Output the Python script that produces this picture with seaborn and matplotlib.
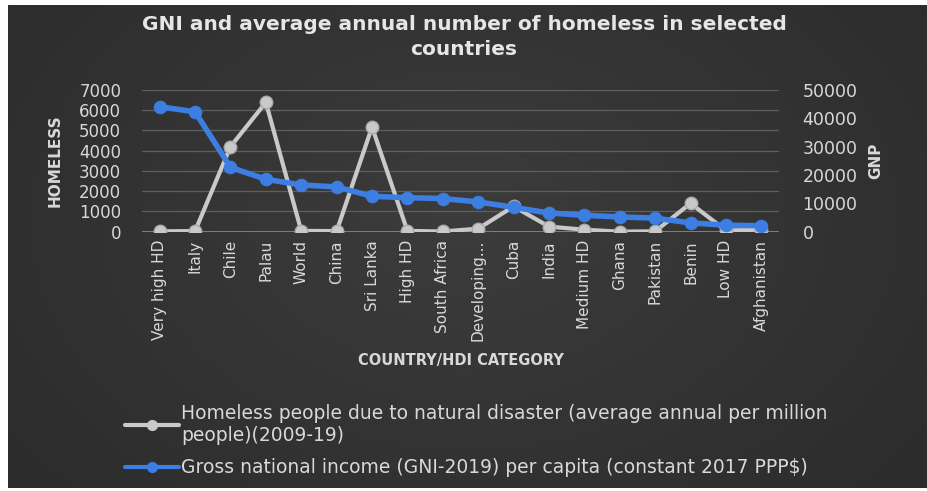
import numpy as np
import pandas as pd
import matplotlib
matplotlib.use("Agg")
import matplotlib.pyplot as plt
import seaborn as sns
from matplotlib.lines import Line2D

categories = ["Very high HD", "Italy", "Chile", "Palau", "World", "China", "Sri Lanka",
              "High HD", "South Africa", "Developing...", "Cuba", "India", "Medium HD",
              "Ghana", "Pakistan", "Benin", "Low HD", "Afghanistan"]
homeless = [20, 30, 4200, 6390, 40, 30, 5170, 40, 10, 150, 1250, 250, 100, 0, 20, 1400, 60, 100]
gni = [44100, 42300, 22700, 18500, 16500, 15800, 12500, 12000, 11700, 10500, 8600,
       6600, 5800, 5200, 4800, 3100, 2300, 2100]
left_ticks = [0, 1000, 2000, 3000, 4000, 5000, 6000, 7000]
right_ticks = [0, 10000, 20000, 30000, 40000, 50000]

homeless_label = "Homeless people due to natural disaster (average annual per million\npeople)(2009-19)"
gni_label = "Gross national income (GNI-2019) per capita (constant 2017 PPP$)"

df = pd.DataFrame({"category": categories, "homeless": homeless, "gni": gni})

sns.set_theme(style="dark")
plt.rcParams["font.family"] = ["DejaVu Sans"]

W, H = 928, 491
fig = plt.figure(figsize=(W / 100, H / 100), dpi=100)

# background gradient
yy, xx = np.mgrid[0:H, 0:W]
cx, cy = W * 0.5, H * 0.45
r = np.sqrt(((xx - cx) / (W * 0.6)) ** 2 + ((yy - cy) / (H * 0.8)) ** 2)
v = 0.235 - 0.06 * np.clip(r, 0, 1)
img = np.dstack([v, v, v])
img[:5, :, :] = 1.0
img[:, :8, :] = 1.0
img[488:, :, :] = 1.0
fig.figimage(img, xo=0, yo=0, zorder=-10, origin="upper")

ax = fig.add_axes([142 / W, 1 - 231.7 / H, (779 - 142) / W, (231.7 - 90) / H])
ax.set_facecolor("none")
ax2 = ax.twinx()
ax2.set_facecolor("none")

gray = "#c9c9c9"
blue = "#3d7ee2"

sns.lineplot(data=df, x="category", y="homeless", ax=ax, sort=False, color=gray,
             linewidth=3, marker="o", markersize=9, markeredgecolor="#aaaaaa",
             markeredgewidth=1, zorder=3)
sns.lineplot(data=df, x="category", y="gni", ax=ax2, sort=False, color=blue,
             linewidth=4, marker="o", markersize=9, markeredgecolor=blue, zorder=4)

ax.set_xlim(-0.5, len(categories) - 0.5)
ax.set_ylim(0, 7000)
ax2.set_ylim(0, 50000)
ax.set_yticks(left_ticks)
ax2.set_yticks(right_ticks)
ax.set_yticklabels([str(t) for t in left_ticks])
ax2.set_yticklabels([str(t) for t in right_ticks])

ax.grid(axis="y", color="#5f5f5f", linewidth=0.9)
ax.grid(axis="x", visible=False)
ax2.grid(False)
for a in (ax, ax2):
    for s in a.spines.values():
        s.set_visible(False)
ax.axhline(0, color="#8a8a8a", linewidth=1.2, zorder=1)

tc = "#d8d8d8"
ax.tick_params(axis="y", length=0, pad=15, labelsize=12, labelcolor=tc)
ax2.tick_params(axis="y", length=0, pad=17, labelsize=12.5, labelcolor=tc)
ax.tick_params(axis="x", length=0, pad=6, labelsize=11, labelcolor=tc, rotation=90)

ax.set_xlabel("COUNTRY/HDI CATEGORY", color=tc, fontsize=10.5, fontweight="bold", labelpad=8)
ax.set_ylabel("HOMELESS", color=tc, fontsize=11, fontweight="bold", labelpad=12)
ax2.set_ylabel("GNP", color=tc, fontsize=11, fontweight="bold", labelpad=8)
for a in (ax, ax2):
    if a.get_legend():
        a.get_legend().remove()

fig.text(0.5, 1 - 37 / H, "GNI and average annual number of homeless in selected\ncountries",
         ha="center", va="center", color="#e6e6e6", fontsize=14.5, fontweight="bold",
         linespacing=1.35)

handles = [Line2D([], [], color=gray, linewidth=3, marker="o", markersize=7),
           Line2D([], [], color=blue, linewidth=3, marker="o", markersize=7)]
fig.legend(handles, [homeless_label, gni_label], loc="upper left",
           bbox_to_anchor=(125 / W, 1 - 404 / H), frameon=False, fontsize=13.5,
           labelcolor=tc, handlelength=2.9, handletextpad=0.1, labelspacing=0.7,
           borderaxespad=0, borderpad=0)

fig.savefig("out.png", dpi=100)
